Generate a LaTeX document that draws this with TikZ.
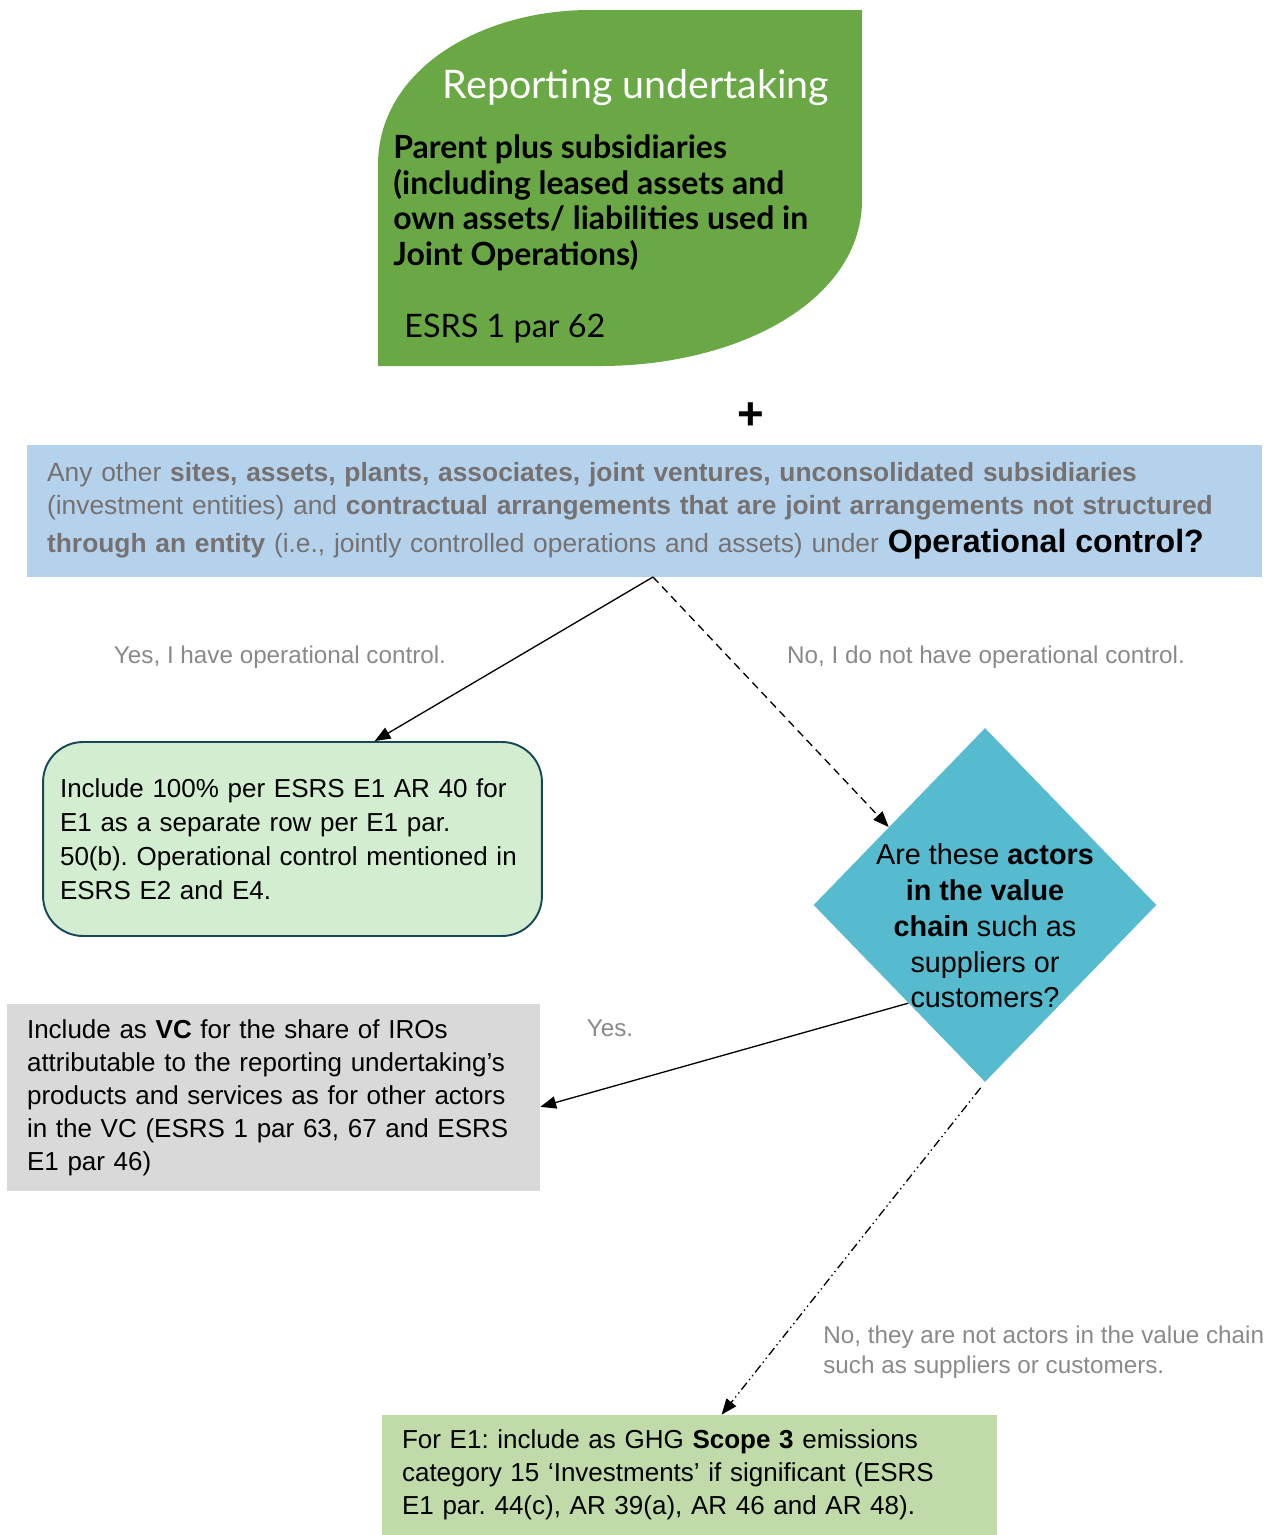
\documentclass[tikz,border=0pt]{standalone}
\usepackage{fontspec}
\setmainfont{Liberation Sans}
\newfontfamily\leaffont{Lato}
\usetikzlibrary{arrows.meta,shapes.geometric}

\definecolor{leafgreen}{RGB}{106,168,69}
\definecolor{scopeblue}{RGB}{180,210,236}
\definecolor{othergrey}{RGB}{118,113,113}
\definecolor{labelgrey}{RGB}{137,137,137}
\definecolor{yesgreen}{RGB}{211,237,209}
\definecolor{yesborder}{RGB}{23,71,88}
\definecolor{askblue}{RGB}{87,187,207}
\definecolor{vcgrey}{RGB}{217,217,217}
\definecolor{scopegreen}{RGB}{192,219,169}
\frenchspacing

\begin{document}
\begin{tikzpicture}[x=0.02cm,y=-0.02cm]
        \tikzstyle{box_style} = [rectangle, inner xsep=0.4cm, inner ysep=0pt, align=left, font=\fontsize{14.8}{18.8}\selectfont]
        \tikzstyle{label_style} = [text=labelgrey, inner sep=0pt, font=\fontsize{13.8}{17}\selectfont]
        \tikzstyle{edge_style} = [draw=black, line width=0.75pt, -{Triangle[length=9pt,width=7pt]}]
        \useasboundingbox (0,0) rectangle (1267,1535);
        % reporting undertaking leaf
        \fill[leafgreen] (378,366) -- (378,165) .. controls (378,70) and (480,10) .. (590,10) -- (862,10) -- (862,200) .. controls (862,300) and (740,366) .. (600,366) -- cycle;
        \node[text=white, inner sep=0pt, font=\leaffont\fontsize{22.4}{25}\selectfont] (title) at (636,88) {Reporting undertaking};
        \node[anchor=west, align=left, inner sep=0pt, font=\leaffont\bfseries\fontsize{18.2}{20.2}\selectfont] (parent) at (393,203) {Parent plus subsidiaries\\(including leased assets and\\own assets/ liabilities used in\\Joint Operations)};
        \node[anchor=west, inner sep=0pt, font=\leaffont\fontsize{18.4}{20}\selectfont] (par62) at (404,329) {ESRS 1 par 62};
        \node[inner sep=0pt, font=\bfseries\fontsize{26}{26}\selectfont] (plus) at (751,416) {+};
        % boxes
        \node[box_style, fill=scopeblue, text=othergrey, minimum width=24.7cm, minimum height=2.64cm, text width=23.9cm, font=\fontsize{15}{18.8}\selectfont] (scope) at (644.5,511) {Any other \textbf{sites, assets, plants, associates, joint ventures, unconsolidated subsidiaries}\\(investment entities) and \textbf{contractual arrangements that are joint arrangements not structured}\\[2.6pt]\textbf{through an entity} (i.e., jointly controlled operations and assets) under {\color{black}\bfseries\fontsize{18.3}{21}\selectfont Operational control?}};
        \node[box_style, fill=yesgreen, draw=yesborder, line width=1.1pt, rounded corners=0.8cm, minimum width=9.98cm, minimum height=3.88cm, inner xsep=0.34cm, text width=9.3cm, font=\fontsize{14.8}{19.3}\selectfont] (yesbox) at (292.5,839) {Include 100\% per ESRS E1 AR 40 for\\E1 as a separate row per E1 par.\\50(b). Operational control mentioned in\\ESRS E2 and E4.};
        \node[diamond, fill=askblue, minimum width=6.86cm, minimum height=7.08cm, inner sep=0pt] (ask) at (985,905) {};
        \node[align=center, inner sep=0pt, font=\fontsize{16.4}{20.4}\selectfont] (askq) at (985,926) {Are these \textbf{actors}\\\textbf{in the value}\\\textbf{chain} such as\\suppliers or\\customers?};
        \node[box_style, fill=vcgrey, minimum width=10.66cm, minimum height=3.74cm, text width=9.86cm] (vc) at (273.5,1097.5) {Include as \textbf{VC} for the share of IROs\\attributable to the reporting undertaking’s\\products and services as for other actors\\in the VC (ESRS 1 par 63, 67 and ESRS\\E1 par 46)};
        \node[box_style, fill=scopegreen, minimum width=12.3cm, minimum height=2.4cm, text width=11.5cm] (s3) at (689.5,1475) {For E1: include as GHG \textbf{Scope 3} emissions\\category 15 ‘Investments’ if significant (ESRS\\E1 par. 44(c), AR 39(a), AR 46 and AR 48).};
        % answers
        \node[label_style] (yeslbl) at (280,657) {Yes, I have operational control.};
        \node[label_style] (nolbl) at (986,657) {No, I do not have operational control.};
        \node[label_style] (yesvc) at (610,1028) {Yes.};
        \node[label_style, anchor=north west, align=left] (novc) at (823,1326) {No, they are not actors in the value chain\\such as suppliers or customers.};
        \coordinate (split) at (653,577);
        \draw[edge_style] (split) -- (yesbox.50.7);
        \draw[edge_style, dash pattern=on 4.5pt off 3pt] (split) -- (ask.141);
        \draw[edge_style] (ask.232.6) -- (vc.-2);
        \draw[edge_style, shorten <=4pt, dash pattern=on 5pt off 2pt on 0.8pt off 2pt on 0.8pt off 2pt] (ask.south) -- (s3.62);
      \end{tikzpicture}
\end{document}
